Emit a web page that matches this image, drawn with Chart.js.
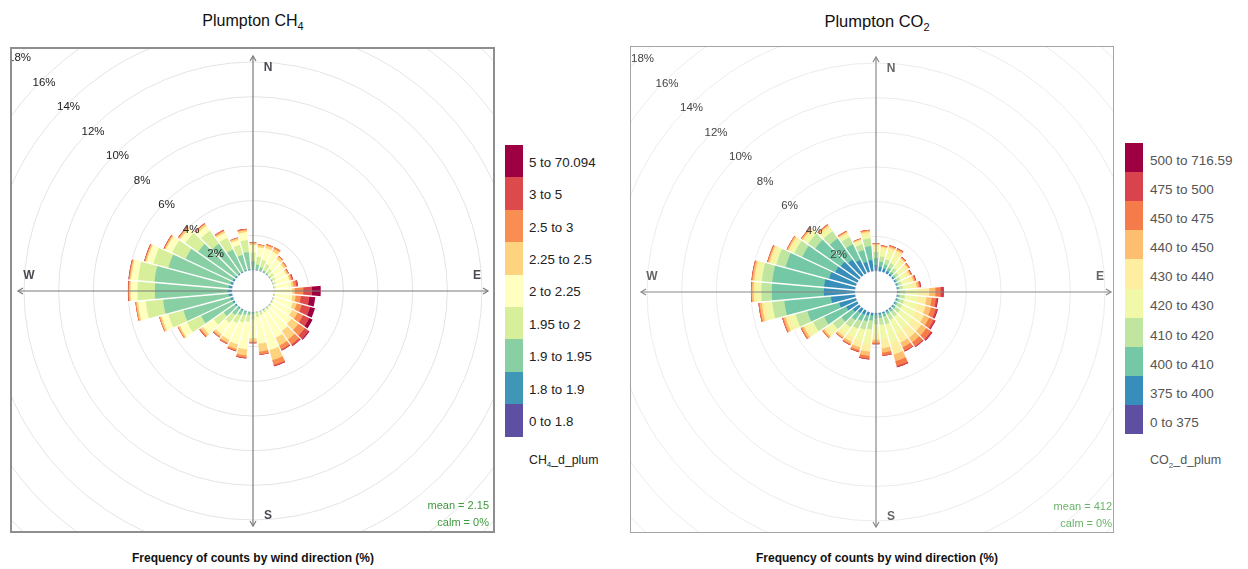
<!DOCTYPE html>
<html>
<head>
<meta charset="utf-8">
<script src="https://cdn.jsdelivr.net/npm/chart.js@4.4.1/dist/chart.umd.min.js"></script>
<style>
  body { margin: 0; background: #fff; font-family: "Liberation Sans", Arial, sans-serif; width: 1248px; height: 569px; position: relative; overflow: hidden; }
  .title { position: absolute; top: 12px; width: 300px; text-align: center; font-size: 16px; color: #111; }
  .title sub { font-size: 11px; }
  .box { position: absolute; box-sizing: border-box; overflow: hidden; background: #fff; }
  .box canvas { position: absolute; }
  .xlab { position: absolute; top: 551px; width: 400px; text-align: center; font-size: 12px; font-weight: bold; color: #111; }
  .key { position: absolute; }
  .key .sw { position: absolute; left: 0; width: 18px; }
  .key .lab { position: absolute; white-space: nowrap; }
  .key .name { position: absolute; white-space: nowrap; }
  .key sub { font-size: 8px; }
</style>
</head>
<body>

<div class="title" style="left:103px">Plumpton CH<sub>4</sub></div>
<div class="box" style="left:10px; top:47px; width:485px; height:486px; border:2px solid #8e8e8e;">
  <canvas id="ch4" width="700" height="700" style="left:-109px; top:-108px;"></canvas>
</div>
<div class="xlab" style="left:53px">Frequency of counts by wind direction (%)</div>
<div class="key" id="keyCh4" style="left:505px; top:145px;"></div>

<div class="title" style="left:727px; font-size:16.5px">Plumpton CO<sub>2</sub></div>
<div class="box" style="left:630px; top:46px; width:484px; height:487px; border:1.5px solid #a4a4a4;">
  <canvas id="co2" width="700" height="700" style="left:-105.5px; top:-105.5px;"></canvas>
</div>
<div class="xlab" style="left:677px">Frequency of counts by wind direction (%)</div>
<div class="key" id="keyCo2" style="left:1125px; top:143px;"></div>

<script>
// wind direction sectors (degrees)
const directions = ['0', '10', '20', '30', '40', '50', '60', '70', '80', '90', '100', '110',
  '120', '130', '140', '150', '160', '170', '180', '190', '200', '210', '220', '230',
  '240', '250', '260', '270', '280', '290', '300', '310', '320', '330', '340', '350'];

// percentage rings
const ringValues = [2, 4, 6, 8, 10, 12, 14, 16, 18];

// CH4 bins, lowest first
const ch4Bins = ['0 to 1.8', '1.8 to 1.9', '1.9 to 1.95', '1.95 to 2', '2 to 2.25',
  '2.25 to 2.5', '2.5 to 3', '3 to 5', '5 to 70.094'];
const ch4Colors = ['#5E4FA2', '#3F96B7', '#88CFA4', '#D7EF9B', '#FFFFBF',
  '#FED380', '#F98E52', '#DD4A4C', '#9E0142'];

// frequency (%) per direction, one value per CH4 bin
const ch4Freq = [
  [0, 0.05, 0.45, 0.5, 0.45, 0.1, 0.05, 0, 0],
  [0, 0.03, 0.3, 0.45, 0.55, 0.12, 0.05, 0, 0],
  [0, 0.02, 0.2, 0.45, 0.7, 0.15, 0.08, 0, 0],
  [0, 0, 0.12, 0.4, 0.8, 0.18, 0.1, 0, 0],
  [0, 0, 0.08, 0.3, 0.7, 0.15, 0.07, 0, 0],
  [0, 0, 0.05, 0.25, 0.7, 0.13, 0.07, 0, 0],
  [0, 0, 0.03, 0.2, 0.7, 0.1, 0.05, 0.02, 0],
  [0, 0, 0.02, 0.15, 0.8, 0.1, 0.08, 0.05, 0],
  [0, 0, 0.02, 0.1, 0.9, 0.13, 0.15, 0.1, 0],
  [0, 0, 0, 0.05, 1.0, 0.15, 0.5, 0.5, 0.5],
  [0, 0, 0.02, 0.05, 1.0, 0.2, 0.3, 0.5, 0.33],
  [0, 0, 0.02, 0.05, 1.1, 0.25, 0.3, 0.5, 0.28],
  [0, 0, 0.02, 0.08, 1.2, 0.35, 0.35, 0.4, 0.2],
  [0, 0, 0.02, 0.1, 1.4, 0.5, 0.45, 0.28, 0.05],
  [0, 0, 0.02, 0.12, 1.5, 0.6, 0.35, 0.11, 0],
  [0, 0, 0.03, 0.15, 1.6, 0.5, 0.25, 0.07, 0],
  [0, 0, 0.03, 0.2, 2.1, 0.6, 0.3, 0.07, 0],
  [0, 0, 0.05, 0.25, 1.55, 0.45, 0.17, 0.03, 0],
  [0, 0.02, 0.1, 0.3, 1.1, 0.2, 0.06, 0.02, 0],
  [0, 0.03, 0.15, 0.4, 1.6, 0.35, 0.13, 0.04, 0],
  [0, 0.04, 0.2, 0.45, 1.3, 0.28, 0.1, 0.03, 0],
  [0, 0.05, 0.3, 0.5, 1.05, 0.2, 0.08, 0.02, 0],
  [0, 0.06, 0.45, 0.55, 0.8, 0.15, 0.07, 0.02, 0],
  [0, 0.08, 0.8, 0.7, 0.75, 0.17, 0.08, 0.02, 0],
  [0, 0.1, 2.0, 0.9, 0.45, 0.1, 0.05, 0, 0],
  [0, 0.15, 2.8, 0.9, 0.4, 0.1, 0.05, 0, 0],
  [0, 0.2, 3.8, 1.0, 0.45, 0.1, 0.05, 0, 0],
  [0, 0.25, 4.2, 1.0, 0.4, 0.08, 0.05, 0.02, 0],
  [0, 0.2, 4.3, 0.95, 0.4, 0.08, 0.05, 0.02, 0],
  [0, 0.15, 3.7, 0.9, 0.4, 0.08, 0.05, 0.02, 0],
  [0, 0.1, 3.0, 0.85, 0.4, 0.08, 0.05, 0.02, 0],
  [0, 0.08, 2.6, 0.9, 0.35, 0.1, 0.05, 0.02, 0],
  [0, 0.06, 2.1, 0.9, 0.35, 0.12, 0.05, 0.02, 0],
  [0, 0.05, 1.4, 0.75, 0.32, 0.1, 0.06, 0.02, 0],
  [0, 0.05, 0.9, 0.6, 0.3, 0.1, 0.05, 0, 0],
  [0, 0.05, 1.0, 0.7, 0.45, 0.12, 0.06, 0.02, 0]
];

// CO2 bins, lowest first
const co2Bins = ['0 to 375', '375 to 400', '400 to 410', '410 to 420', '420 to 430',
  '430 to 440', '440 to 450', '450 to 475', '475 to 500', '500 to 716.59'];
const co2Colors = ['#5E4FA2', '#388EBA', '#75C8A5', '#BFE5A0', '#F1F9A9',
  '#FEEEA2', '#FDBF6F', '#F67B4A', '#D8434E', '#9E0142'];

const co2Freq = [
  [0, 0.35, 0.4, 0.35, 0.3, 0.12, 0.05, 0.03, 0, 0],
  [0, 0.25, 0.3, 0.3, 0.4, 0.15, 0.06, 0.04, 0, 0],
  [0, 0.2, 0.25, 0.3, 0.5, 0.2, 0.08, 0.05, 0.02, 0],
  [0, 0.15, 0.2, 0.3, 0.55, 0.25, 0.08, 0.05, 0.02, 0],
  [0, 0.1, 0.15, 0.25, 0.45, 0.22, 0.07, 0.04, 0.02, 0],
  [0, 0.08, 0.12, 0.2, 0.45, 0.22, 0.07, 0.04, 0.02, 0],
  [0, 0.06, 0.1, 0.18, 0.42, 0.2, 0.07, 0.05, 0.02, 0],
  [0, 0.05, 0.1, 0.18, 0.45, 0.24, 0.09, 0.06, 0.03, 0],
  [0, 0.05, 0.1, 0.2, 0.5, 0.3, 0.12, 0.08, 0.05, 0],
  [0, 0.05, 0.12, 0.3, 0.8, 0.6, 0.35, 0.3, 0.13, 0.05],
  [0, 0.05, 0.12, 0.3, 0.75, 0.5, 0.3, 0.25, 0.1, 0.03],
  [0, 0.05, 0.12, 0.3, 0.8, 0.5, 0.32, 0.28, 0.1, 0.03],
  [0, 0.05, 0.12, 0.3, 0.85, 0.55, 0.33, 0.28, 0.1, 0.02],
  [0, 0.06, 0.14, 0.32, 0.9, 0.6, 0.35, 0.32, 0.1, 0.01],
  [0, 0.06, 0.15, 0.33, 0.9, 0.6, 0.32, 0.28, 0.06, 0],
  [0, 0.07, 0.16, 0.35, 0.9, 0.55, 0.3, 0.22, 0.05, 0],
  [0, 0.08, 0.2, 0.45, 1.1, 0.7, 0.4, 0.3, 0.07, 0],
  [0, 0.1, 0.2, 0.4, 0.85, 0.5, 0.25, 0.17, 0.03, 0],
  [0, 0.1, 0.2, 0.35, 0.6, 0.3, 0.15, 0.08, 0.02, 0],
  [0, 0.15, 0.3, 0.5, 0.85, 0.45, 0.25, 0.15, 0.05, 0],
  [0, 0.2, 0.35, 0.5, 0.7, 0.35, 0.18, 0.1, 0.02, 0],
  [0, 0.25, 0.4, 0.5, 0.55, 0.28, 0.14, 0.07, 0.01, 0],
  [0, 0.3, 0.5, 0.5, 0.45, 0.2, 0.1, 0.05, 0, 0],
  [0, 0.45, 0.8, 0.6, 0.4, 0.2, 0.1, 0.05, 0, 0],
  [0, 0.7, 1.4, 0.7, 0.4, 0.2, 0.13, 0.07, 0, 0],
  [0, 1.0, 1.9, 0.7, 0.4, 0.2, 0.13, 0.07, 0, 0],
  [0, 1.4, 2.7, 0.7, 0.4, 0.2, 0.13, 0.07, 0, 0],
  [0, 1.8, 3.0, 0.6, 0.3, 0.15, 0.1, 0.05, 0, 0],
  [0, 1.8, 3.0, 0.6, 0.3, 0.15, 0.1, 0.05, 0, 0],
  [0, 1.6, 2.6, 0.55, 0.28, 0.14, 0.08, 0.05, 0, 0],
  [0, 1.4, 2.1, 0.5, 0.25, 0.13, 0.08, 0.04, 0, 0],
  [0, 1.3, 1.8, 0.5, 0.25, 0.13, 0.08, 0.04, 0, 0],
  [0, 1.1, 1.5, 0.5, 0.25, 0.12, 0.08, 0.05, 0, 0],
  [0, 0.85, 1.0, 0.45, 0.2, 0.1, 0.06, 0.04, 0, 0],
  [0, 0.6, 0.7, 0.35, 0.18, 0.09, 0.05, 0.03, 0, 0],
  [0, 0.65, 0.8, 0.45, 0.25, 0.12, 0.08, 0.05, 0, 0]
];

// draws the hole, sector gaps, compass arrows and ring labels
const roseDecor = {
  id: 'roseDecor',
  afterDatasetsDraw(chart, args, o) {
    const s = chart.scales.r;
    const ctx = chart.ctx;
    const cx = s.xCenter, cy = s.yCenter;
    const outer = chart.getDatasetMeta(chart.data.datasets.length - 1).data;

    ctx.save();
    // white gaps between sectors
    ctx.strokeStyle = '#fff';
    ctx.lineWidth = 1.3;
    outer.forEach((arc, i) => {
      const prev = outer[(i + outer.length - 1) % outer.length];
      const len = Math.max(arc.outerRadius, prev.outerRadius) + 1;
      ctx.beginPath();
      ctx.moveTo(cx, cy);
      ctx.lineTo(cx + len * Math.cos(arc.startAngle), cy + len * Math.sin(arc.startAngle));
      ctx.stroke();
    });

    // calm hole
    ctx.fillStyle = '#fff';
    ctx.beginPath();
    ctx.arc(cx, cy, s.getDistanceFromCenterForValue(0), 0, Math.PI * 2);
    ctx.fill();

    // compass axes
    ctx.strokeStyle = o.axisColor;
    ctx.lineWidth = 1.2;
    const L = 235;
    [[0, -1], [1, 0], [0, 1], [-1, 0]].forEach(([dx, dy]) => {
      const tx = cx + dx * L, ty = cy + dy * L;
      ctx.beginPath();
      ctx.moveTo(cx, cy);
      ctx.lineTo(tx, ty);
      ctx.stroke();
      const px = -dy, py = dx;
      ctx.beginPath();
      ctx.moveTo(tx - dx * 5 + px * 3, ty - dy * 5 + py * 3);
      ctx.lineTo(tx, ty);
      ctx.lineTo(tx - dx * 5 - px * 3, ty - dy * 5 - py * 3);
      ctx.stroke();
    });

    ctx.textAlign = 'center';
    ctx.textBaseline = 'middle';
    ctx.font = 'bold 12px "Liberation Sans", Arial, sans-serif';
    ctx.fillStyle = o.compassColor;
    ctx.fillText('N', cx + 15, cy - 223);
    ctx.fillText('E', cx + 224, cy - 15);
    ctx.fillText('S', cx + 15, cy + 225);
    ctx.fillText('W', cx - 224, cy - 15);

    // ring labels along the NW diagonal
    ctx.font = '11.5px "Liberation Sans", Arial, sans-serif';
    ctx.fillStyle = o.labelColor;
    ringValues.forEach(v => {
      const r = s.getDistanceFromCenterForValue(v) * Math.SQRT1_2;
      ctx.fillText(v + '%', cx - r + 2, cy - r + 2.5);
    });

    // mean / calm
    ctx.textAlign = 'right';
    ctx.fillStyle = o.noteColor;
    ctx.font = '11px "Liberation Sans", Arial, sans-serif';
    ctx.fillText(o.mean, cx + 236, cy + 215);
    ctx.fillText(o.calm, cx + 236, cy + 232);
    ctx.restore();
  }
};

function drawRose(canvasId, rows, bins, colors, deco) {
  const datasets = bins.map((name, b) => ({
    label: name,
    data: rows.map(r => r.slice(0, b + 1).reduce((a, v) => a + v, 0)),
    backgroundColor: colors[b],
    borderWidth: 0
  }));

  new Chart(document.getElementById(canvasId), {
    type: 'polarArea',
    data: { labels: directions, datasets },
    options: {
      responsive: false,
      animation: false,
      layout: { padding: 0 },
      plugins: {
        legend: { display: false },
        tooltip: { enabled: false },
        roseDecor: deco
      },
      scales: {
        r: {
          min: -1.21,
          max: 18.98,
          startAngle: -5,
          ticks: { display: false },
          afterBuildTicks: s => { s.ticks = ringValues.map(v => ({ value: v })); },
          grid: { color: deco.gridColor, lineWidth: 1 },
          angleLines: { display: false },
          pointLabels: { display: false }
        }
      }
    },
    plugins: [roseDecor]
  });
}

function buildKey(id, bins, colors, rowH, opts) {
  const el = document.getElementById(id);
  const n = bins.length;
  for (let i = 0; i < n; i++) {
    const b = n - 1 - i;
    const sw = document.createElement('div');
    sw.className = 'sw';
    sw.style.top = (i * rowH) + 'px';
    sw.style.height = (rowH + 0.5) + 'px';
    sw.style.background = colors[b];
    el.appendChild(sw);
    const lab = document.createElement('div');
    lab.className = 'lab';
    lab.textContent = bins[b];
    lab.style.left = opts.textLeft + 'px';
    lab.style.top = (i * rowH + rowH / 2 - opts.fontSize * 0.6 + opts.shift) + 'px';
    lab.style.fontSize = opts.fontSize + 'px';
    lab.style.color = opts.color;
    el.appendChild(lab);
  }
  const name = document.createElement('div');
  name.className = 'name';
  name.innerHTML = opts.name;
  name.style.left = opts.textLeft + 'px';
  name.style.top = (n * rowH + 15 + opts.shift) + 'px';
  name.style.fontSize = (opts.fontSize - 1) + 'px';
  name.style.color = opts.color;
  el.appendChild(name);
}

drawRose('ch4', ch4Freq, ch4Bins, ch4Colors, {
  axisColor: '#7b7b7b', compassColor: '#4a4a55', labelColor: '#222',
  noteColor: '#3d9a3d', gridColor: '#e4e4e4', mean: 'mean = 2.15', calm: 'calm = 0%'
});
drawRose('co2', co2Freq, co2Bins, co2Colors, {
  axisColor: '#888', compassColor: '#666', labelColor: '#444',
  noteColor: '#6ab46a', gridColor: '#ececec', mean: 'mean = 412', calm: 'calm = 0%'
});

buildKey('keyCh4', ch4Bins, ch4Colors, 32.4, { textLeft: 24, fontSize: 13.3, color: '#222', shift: 1.5, name: 'CH<sub>4</sub>_d_plum' });
buildKey('keyCo2', co2Bins, co2Colors, 29.1, { textLeft: 25, fontSize: 13.5, color: '#555', shift: 3.5, name: 'CO<sub>2</sub>_d_plum' });
</script>
</body>
</html>
